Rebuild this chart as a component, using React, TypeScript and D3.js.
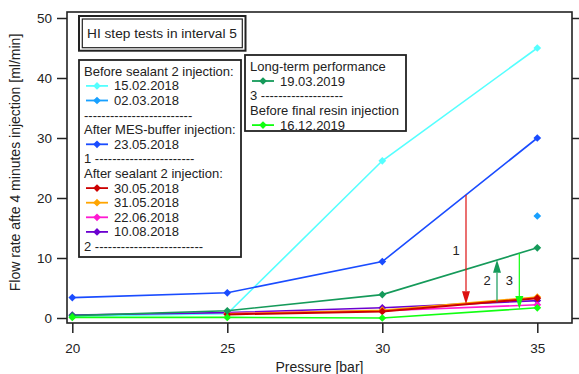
import React, { useEffect, useRef } from 'react'
import * as d3 from 'd3'

// pressure steps [bar]
const pressures = [20, 25, 30, 35]

// flow rate after 4 minutes injection [ml/min], null = not measured
const feb15_2018 = [0.3, 0.7, 26.2, 45]
const mar02_2018 = [null, null, null, 17]
const may23_2018 = [3.4, 4.2, 9.4, 30]
const may30_2018 = [null, 0.6, 1.1, 3.3]
const may31_2018 = [null, 0.7, 1.3, 3.5]
const jun22_2018 = [null, 0.8, 1.2, 2.2]
const aug10_2018 = [0.5, 0.9, 1.7, 2.9]
const mar19_2019 = [0.4, 1.2, 3.9, 11.7]
const dec16_2019 = [0.1, 0.1, 0.0, 1.7]

const xTicks = [20, 25, 30, 35]
const yTicks = [0, 10, 20, 30, 40, 50]

// arrows: pressure, from value, to value, label
const arrowX = [32.7, 33.7, 34.42]
const arrowFrom = [20.5, 2.7, 10.8]
const arrowTo = [2.3, 9.7, 1.5]
const arrowLabels = ['1', '2', '3']

const series = [
  { name: '15.02.2018', values: feb15_2018, color: '#55ffff' },
  { name: '02.03.2018', values: mar02_2018, color: '#18a0ff' },
  { name: '23.05.2018', values: may23_2018, color: '#1a4cff' },
  { name: '30.05.2018', values: may30_2018, color: '#cc0000' },
  { name: '31.05.2018', values: may31_2018, color: '#ffa500' },
  { name: '22.06.2018', values: jun22_2018, color: '#ff19d1' },
  { name: '10.08.2018', values: aug10_2018, color: '#6b00d0' },
  { name: '19.03.2019', values: mar19_2019, color: '#159a5a' },
  { name: '16.12.2019', values: dec16_2019, color: '#11ff11' },
]
// red series sits on top of the bunch at the bottom
const drawOrder = [0, 1, 2, 6, 5, 4, 3, 7, 8]
const arrowColors = ['#dd1111', '#159a5a', '#11ff11']

const legendA = [
  { text: 'Before sealant 2 injection:' },
  { item: '15.02.2018' },
  { item: '02.03.2018' },
  { text: '-------------------------' },
  { text: 'After MES-buffer injection:' },
  { item: '23.05.2018' },
  { text: '1 -----------------------' },
  { text: 'After sealant 2 injection:' },
  { item: '30.05.2018' },
  { item: '31.05.2018' },
  { item: '22.06.2018' },
  { item: '10.08.2018' },
  { text: '2 -------------------------' },
]
const legendB = [
  { text: 'Long-term performance' },
  { item: '19.03.2019' },
  { text: '3 -------------------' },
  { text: 'Before final resin injection' },
  { item: '16.12.2019' },
]

const W = 579
const H = 374
const FONT = '"Liberation Sans", Arial, sans-serif'
const INK = '#222'
const frame = { left: 67, right: 572, top: 12, bottom: 323 }

const x = d3.scaleLinear().domain([20, 35]).range([72.3, 537.3])
const y = d3.scaleLinear().domain([0, 50]).range([318, 18])

const diamond = d3.symbol(d3.symbolSquare, 30)()

const Legend = ({ rows, left, top, width, height, firstY, step, textX }) => (
  <g>
    <rect x={left} y={top} width={width} height={height} fill="white" stroke={INK} strokeWidth={1.8} />
    {rows.map((r, i) => {
      const cy = firstY + i * step
      if (r.text) {
        return (
          <text key={i} x={left + 5} y={cy} dy="0.35em" fontSize={13} fill={INK}>
            {r.text}
          </text>
        )
      }
      const s = series.find((d) => d.name === r.item)
      return (
        <g key={i}>
          <line x1={left + 7} x2={left + 29} y1={cy} y2={cy} stroke={s.color} strokeWidth={1.8} />
          <path d={diamond} transform={`translate(${left + 18},${cy}) rotate(45)`} fill={s.color} />
          <text x={left + textX} y={cy} dy="0.35em" fontSize={13} fill={INK}>
            {s.name}
          </text>
        </g>
      )
    })}
  </g>
)

export default function App() {
  const leftRef = useRef(null)
  const rightRef = useRef(null)
  const bottomRef = useRef(null)

  useEffect(() => {
    const style = (g) => {
      g.select('.domain').remove()
      g.attr('font-family', FONT).attr('font-size', 13.5)
      g.selectAll('line').attr('stroke', INK).attr('stroke-width', 1.5)
      g.selectAll('text').attr('fill', INK)
    }
    d3.select(leftRef.current)
      .call(d3.axisLeft(y).tickValues(yTicks).tickSize(10).tickPadding(5))
      .call(style)
    d3.select(rightRef.current)
      .call(d3.axisRight(y).tickValues(yTicks).tickSize(8).tickFormat(() => ''))
      .call(style)
    d3.select(bottomRef.current)
      .call(d3.axisBottom(x).tickValues(xTicks).tickSize(10).tickPadding(10))
      .call(style)
  }, [])

  const line = d3
    .line()
    .defined((d) => d[1] != null)
    .x((d) => x(d[0]))
    .y((d) => y(d[1]))

  const headLen = 13
  const headHalf = 4

  return (
    <svg width={W} height={H} style={{ position: 'absolute', left: 0, top: 0 }} fontFamily={FONT}>
      <rect width={W} height={H} fill="white" />

      {drawOrder.map((k) => {
        const s = series[k]
        const pts = pressures.map((p, i) => [p, s.values[i]])
        return (
          <g key={s.name}>
            <path d={line(pts)} fill="none" stroke={s.color} strokeWidth={k === 3 ? 2 : 1.6} />
            {pts
              .filter((d) => d[1] != null)
              .map((d) => (
                <path
                  key={d[0]}
                  d={diamond}
                  transform={`translate(${x(d[0])},${y(d[1])}) rotate(45)`}
                  fill={s.color}
                />
              ))}
          </g>
        )
      })}

      {arrowX.map((p, i) => {
        const ax = x(p)
        const y0 = y(arrowFrom[i])
        const y1 = y(arrowTo[i])
        const dir = y1 > y0 ? 1 : -1
        const base = y1 - dir * headLen
        return (
          <g key={i}>
            <line x1={ax} x2={ax} y1={y0} y2={base} stroke={arrowColors[i]} strokeWidth={1.2} />
            <path
              d={`M${ax},${y1}L${ax - headHalf},${base}L${ax + headHalf},${base}Z`}
              fill={arrowColors[i]}
            />
            <text
              x={ax - 10}
              y={i === 0 ? y(11.2) : y(6.2)}
              dy="0.35em"
              textAnchor="middle"
              fontSize={13}
              fill={INK}
            >
              {arrowLabels[i]}
            </text>
          </g>
        )
      })}

      <rect
        x={frame.left}
        y={frame.top}
        width={frame.right - frame.left}
        height={frame.bottom - frame.top}
        fill="none"
        stroke={INK}
        strokeWidth={1.6}
      />
      <g ref={leftRef} transform={`translate(${frame.left},0)`} />
      <g ref={rightRef} transform={`translate(${frame.right},0)`} />
      <g ref={bottomRef} transform={`translate(0,${frame.bottom})`} />

      {/* title box */}
      <rect x={79} y={16} width={166.5} height={34.7} fill="white" stroke={INK} strokeWidth={2} />
      <rect x={82.3} y={19} width={160} height={28.7} fill="none" stroke={INK} strokeWidth={1.2} />
      <text x={87} y={33} dy="0.35em" fontSize={13.7} fill={INK}>
        HI step tests in interval 5
      </text>

      <Legend rows={legendA} left={79} top={60} width={162} height={197} firstY={71.3} step={14.6} textX={35} />
      <Legend rows={legendB} left={245} top={55} width={161} height={76} firstY={66.3} step={14.7} textX={35} />

      <text
        transform={`translate(20,162.5) rotate(-90)`}
        textAnchor="middle"
        fontSize={14}
        fill={INK}
      >
        Flow rate afte 4 minutes injection [ml/min]
      </text>
      <text x={(frame.left + frame.right) / 2} y={372} textAnchor="middle" fontSize={14} fill={INK}>
        Pressure [bar]
      </text>
    </svg>
  )
}
